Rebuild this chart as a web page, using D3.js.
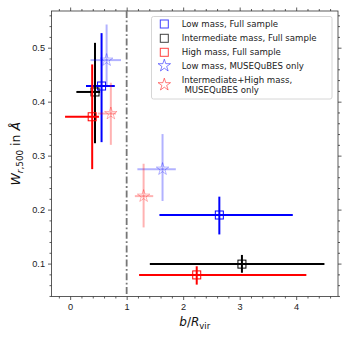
<!DOCTYPE html>
<html lang="en">
<head>
<meta charset="UTF-8">
<title>W vs b/Rvir</title>
<style>
  body { margin: 0; background: #fff; }
  svg { display: block; font-family: "DejaVu Sans", sans-serif; }
</style>
<script src="https://cdn.jsdelivr.net/npm/d3@7"></script>
</head>
<body>
<svg width="349" height="340"></svg>
<script>
// Low mass, Full sample
const lowX = [0.556, 2.64], lowY = [0.429, 0.190];
const lowXMin = [0.28, 1.58], lowXMax = [0.79, 3.94];
const lowYMin = [0.325, 0.154], lowYMax = [0.527, 0.224];
// Intermediate mass, Full sample
const intX = [0.44, 3.04], intY = [0.418, 0.099];
const intXMin = [0.11, 1.41], intXMax = [0.53, 4.50];
const intYMin = [0.323, 0.083], intYMax = [0.509, 0.116];
// High mass, Full sample
const highX = [0.39, 2.24], highY = [0.372, 0.079];
const highXMin = [-0.09, 1.22], highXMax = [0.51, 4.18];
const highYMin = [0.275, 0.061], highYMax = [0.469, 0.095];
// Low mass, MUSEQuBES only
const lowMqX = [0.645, 1.635], lowMqY = [0.477, 0.275];
const lowMqXMin = [0.36, 1.19], lowMqXMax = [0.90, 1.87];
const lowMqYMin = [0.43, 0.216], lowMqYMax = [0.543, 0.340];
// Intermediate+High mass, MUSEQuBES only
const ihMqX = [0.72, 1.30], ihMqY = [0.378, 0.225];
const ihMqXMin = [0.49, 1.145], ihMqXMax = [0.81, 1.47];
const ihMqYMin = [0.32, 0.167], ihMqYMax = [0.435, 0.285];

const xTicks = [0, 1, 2, 3, 4];
const yTicks = [0.1, 0.2, 0.3, 0.4, 0.5];
const rvirLine = 1;

const series = [
  {label: ["Low mass, Full sample"], color: "#0000ff", alpha: 1, marker: "square",
   x: lowX, y: lowY, x0: lowXMin, x1: lowXMax, y0: lowYMin, y1: lowYMax},
  {label: ["Intermediate mass, Full sample"], color: "#000000", alpha: 1, marker: "square",
   x: intX, y: intY, x0: intXMin, x1: intXMax, y0: intYMin, y1: intYMax},
  {label: ["High mass, Full sample"], color: "#ff0000", alpha: 1, marker: "square",
   x: highX, y: highY, x0: highXMin, x1: highXMax, y0: highYMin, y1: highYMax},
  {label: ["Low mass, MUSEQuBES only"], color: "#0000ff", alpha: 0.3, marker: "star",
   x: lowMqX, y: lowMqY, x0: lowMqXMin, x1: lowMqXMax, y0: lowMqYMin, y1: lowMqYMax},
  {label: ["Intermediate+High mass,", " MUSEQuBES only"], color: "#ff0000", alpha: 0.3, marker: "star",
   x: ihMqX, y: ihMqY, x0: ihMqXMin, x1: ihMqXMax, y0: ihMqYMin, y1: ihMqYMax}
];

const svg = d3.select("svg");
const margin = {left: 51.5, right: 11, top: 11, bottom: 43.5};
const W = 349, H = 340;

const x = d3.scaleLinear().domain([-0.33, 4.74]).range([margin.left, W - margin.right]);
const y = d3.scaleLinear().domain([0.039, 0.568]).range([H - margin.bottom, margin.top]);

const axisColor = "#333";

// axes with outward ticks on all sides
function styleAxis(g) {
  g.select(".domain").remove();
  g.selectAll("line").attr("stroke", axisColor).attr("stroke-width", 0.8);
  g.selectAll("text").attr("fill", "#222").style("font-size", "9.2px");
}
const xMinor = d3.range(-0.2, 4.7, 0.2).filter(v => Math.abs(v - Math.round(v)) > 1e-6);
const yMinor = d3.range(0.04, 0.57, 0.02).filter(v => Math.abs(v * 10 - Math.round(v * 10)) > 1e-6);

[["bottom", H - margin.bottom], ["top", margin.top]].forEach(([side, pos]) => {
  const ax = side === "bottom" ? d3.axisBottom(x) : d3.axisTop(x);
  svg.append("g").attr("transform", `translate(0,${pos})`)
    .call(ax.tickValues(xTicks).tickSize(3.5).tickPadding(3).tickFormat(side === "bottom" ? d3.format("d") : ""))
    .call(styleAxis);
  const axm = side === "bottom" ? d3.axisBottom(x) : d3.axisTop(x);
  svg.append("g").attr("transform", `translate(0,${pos})`)
    .call(axm.tickValues(xMinor).tickSize(2).tickFormat(""))
    .call(styleAxis);
});
[["left", margin.left], ["right", W - margin.right]].forEach(([side, pos]) => {
  const ax = side === "left" ? d3.axisLeft(y) : d3.axisRight(y);
  svg.append("g").attr("transform", `translate(${pos},0)`)
    .call(ax.tickValues(yTicks).tickSize(3.5).tickPadding(3).tickFormat(side === "left" ? d3.format(".1f") : ""))
    .call(styleAxis);
  const axm = side === "left" ? d3.axisLeft(y) : d3.axisRight(y);
  svg.append("g").attr("transform", `translate(${pos},0)`)
    .call(axm.tickValues(yMinor).tickSize(2).tickFormat(""))
    .call(styleAxis);
});

// frame
svg.append("rect")
  .attr("x", margin.left).attr("y", margin.top)
  .attr("width", W - margin.left - margin.right)
  .attr("height", H - margin.top - margin.bottom)
  .attr("fill", "none").attr("stroke", axisColor).attr("stroke-width", 0.8);

const plot = svg.append("g");

// vertical line at b = Rvir
plot.append("line")
  .attr("x1", x(rvirLine)).attr("x2", x(rvirLine))
  .attr("y1", margin.top).attr("y2", H - margin.bottom)
  .attr("stroke", "#777").attr("stroke-width", 1.8)
  .attr("stroke-dasharray", "7,2.5,1.8,2.5");

const starPath = d3.symbol().type(d3.symbolStar).size(48)();

function drawMarker(g, type, color, alpha) {
  if (type === "square") {
    g.append("rect").attr("x", -4).attr("y", -4).attr("width", 8).attr("height", 8)
      .attr("fill", "none").attr("stroke", color).attr("stroke-width", 1).attr("stroke-opacity", alpha);
  } else {
    g.append("path").attr("d", starPath)
      .attr("fill", "none").attr("stroke", color).attr("stroke-width", 1).attr("stroke-opacity", alpha);
  }
}

series.forEach(s => {
  s.x.forEach((xv, i) => {
    const g = plot.append("g");
    g.append("line")
      .attr("x1", x(s.x0[i])).attr("x2", x(s.x1[i]))
      .attr("y1", y(s.y[i])).attr("y2", y(s.y[i]))
      .attr("stroke", s.color).attr("stroke-opacity", s.alpha).attr("stroke-width", 2);
    g.append("line")
      .attr("x1", x(xv)).attr("x2", x(xv))
      .attr("y1", y(s.y0[i])).attr("y2", y(s.y1[i]))
      .attr("stroke", s.color).attr("stroke-opacity", s.alpha).attr("stroke-width", 2);
    const m = g.append("g").attr("transform", `translate(${x(xv)},${y(s.y[i])})`);
    drawMarker(m, s.marker, s.color, s.alpha);
  });
});

// legend
const leg = svg.append("g").attr("transform", "translate(151.5,16.5)");
leg.append("rect").attr("width", 180.5).attr("height", 82.5).attr("rx", 2)
  .attr("fill", "#fff").attr("fill-opacity", 0.8)
  .attr("stroke", "#ccc").attr("stroke-width", 0.8);
const rowY = [7.5, 21.8, 35.8, 49.2, 63.2];
series.forEach((s, i) => {
  const lines = s.label.length;
  const my = lines > 1 ? rowY[i] + 5 : rowY[i];
  const m = leg.append("g").attr("transform", `translate(12.8,${my})`);
  drawMarker(m, s.marker, s.color, s.marker === "star" ? 0.5 : 0.75);
  s.label.forEach((t, j) => {
    leg.append("text").attr("x", 30.2).attr("y", rowY[i] + j * 10.4)
      .attr("dy", "0.35em").style("font-size", "8.6px").attr("fill", "#222")
      .style("white-space", "pre").text(t);
  });
});

// axis labels
svg.append("text")
  .attr("x", (margin.left + W - margin.right) / 2).attr("y", 326)
  .attr("text-anchor", "middle").style("font-size", "12px").attr("fill", "#111")
  .call(t => {
    t.append("tspan").style("font-style", "italic").text("b");
    t.append("tspan").text("/");
    t.append("tspan").style("font-style", "italic").text("R");
    t.append("tspan").attr("dy", 2.5).style("font-size", "8.5px").text("vir");
  });

svg.append("text")
  .attr("transform", `translate(20,${(margin.top + H - margin.bottom) / 2}) rotate(-90)`)
  .attr("text-anchor", "middle").style("font-size", "12.5px").attr("fill", "#111")
  .call(t => {
    t.append("tspan").style("font-style", "italic").text("W");
    t.append("tspan").attr("dy", 2.5).style("font-size", "8.8px").style("font-style", "italic").text("r");
    t.append("tspan").style("font-size", "8.8px").text(",500");
    t.append("tspan").attr("dy", -2.5).text(" in ");
    t.append("tspan").style("font-style", "italic").text("Å");
  });
</script>
</body>
</html>
